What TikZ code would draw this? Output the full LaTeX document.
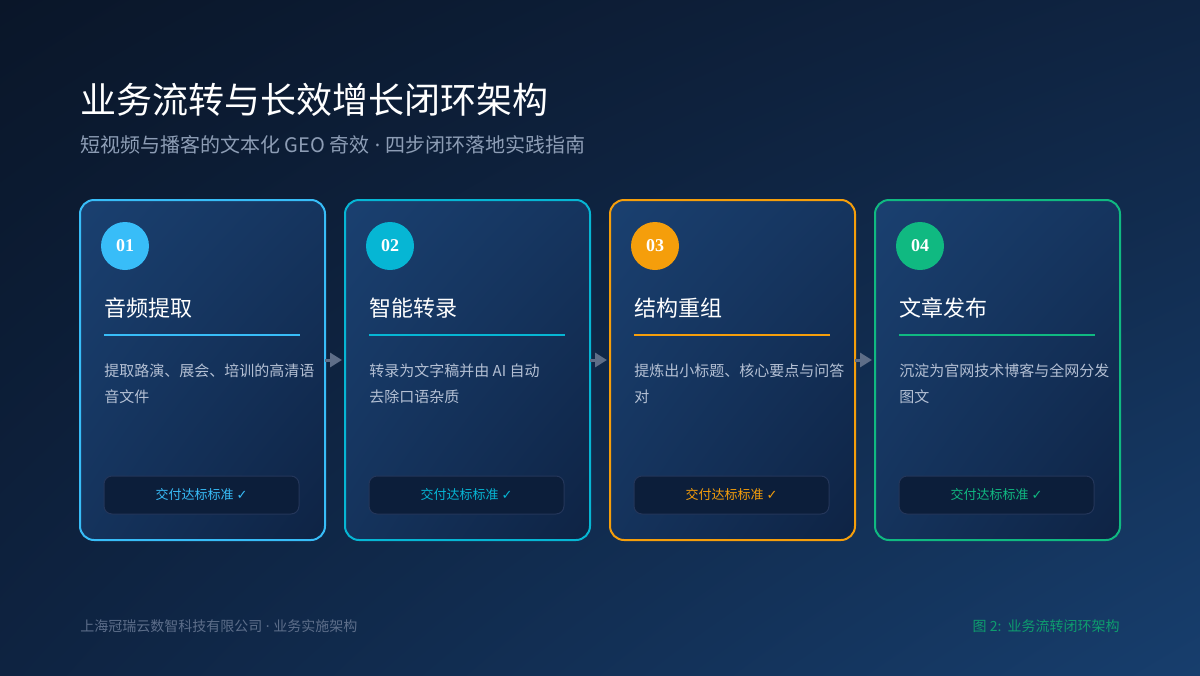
\documentclass[tikz,border=0pt]{standalone}
\usepackage{fontspec}
\setmainfont{Noto Sans CJK SC}
\newfontfamily\numfont{Liberation Serif}
\newfontfamily\symfont{DejaVu Sans}
\newfontfamily\latinfont{Noto Sans}
\usepackage{xcolor}
\usetikzlibrary{positioning, calc, arrows.meta, shadings}

\definecolor{bgTL}{HTML}{0A1629}
\definecolor{bgTR}{HTML}{0F2442}
\definecolor{bgBL}{HTML}{0E2341}
\definecolor{bgBR}{HTML}{173E6D}
\definecolor{cardTL}{HTML}{1A4070}
\definecolor{cardBR}{HTML}{0E2344}
\definecolor{cA}{HTML}{38BDF8}
\definecolor{cB}{HTML}{06B6D4}
\definecolor{cC}{HTML}{F59E0B}
\definecolor{cD}{HTML}{10B981}
\definecolor{subgray}{HTML}{8D9DB5}
\definecolor{descgray}{HTML}{B4C0D4}
\definecolor{footgray}{HTML}{5D6E8A}
\definecolor{arrowgray}{HTML}{5E6E88}
\definecolor{btnfill}{HTML}{0C1E3A}
\definecolor{btnline}{HTML}{24365A}

\newcommand{\chk}{{\symfont ✓}}
\newcommand{\sep}{{\latinfont\ ·\ }}

\begin{document}
\begin{tikzpicture}[x=0.75pt, y=-0.75pt]
    \tikzstyle{card} = [rectangle, rounded corners=10.5pt, line width=1.5pt, outer sep=0pt,
        minimum width=183.75pt, minimum height=255pt,
        upper left=cardTL, upper right=cardTL!60!cardBR, lower left=cardTL!55!cardBR, lower right=cardBR]
    \tikzstyle{badge} = [circle, minimum size=36pt, inner sep=0pt, text=white, font=\numfont\bfseries\fontsize{13.5}{16}\selectfont]
    \tikzstyle{steptitle} = [anchor=base west, inner sep=0pt, text=white, font=\fontsize{16.5}{20}\selectfont]
    \tikzstyle{desc} = [anchor=base west, inner sep=0pt, align=left, text=descgray, font=\fontsize{11.25}{19.5}\selectfont]
    \tikzstyle{okbtn} = [rectangle, rounded corners=6pt, draw=btnline, fill=btnfill, line width=0.75pt,
        minimum width=146.25pt, minimum height=28.5pt, font=\fontsize{9.75}{12}\selectfont]
    \tikzstyle{rule} = [line width=1.5pt]
    \tikzstyle{flowarrow} = [draw=arrowgray, line width=2.25pt, -{Triangle[length=9pt,width=10.5pt]}]

    % background
    \shade[upper left=bgTL, upper right=bgTR, lower left=bgBL, lower right=bgBR] (0,0) rectangle (1200,675);
    \useasboundingbox (0,0) rectangle (1200,675);

    % heading
    \node[anchor=base west, inner sep=0pt, text=white, font=\fontsize{27}{32}\selectfont] (title) at (80,113) {业务流转与长效增长闭环架构};
    \node[anchor=base west, inner sep=0pt, text=subgray, font=\fontsize{15}{18}\selectfont] (subtitle) at (80,152) {短视频与播客的文本化 GEO 奇效\sep 四步闭环落地实践指南};

    % cards
    \node[card, draw=cA] (card1) at (202.5,370) {};
    \node[card, draw=cB, right=15pt of card1] (card2) {};
    \node[card, draw=cC, right=15pt of card2] (card3) {};
    \node[card, draw=cD, right=15pt of card3] (card4) {};

    % step 1
    \node[badge, fill=cA] (num1) at ($(card1.north west)+(45,46)$) {01};
    \node[steptitle] (head1) at ($(card1.north west)+(24,116)$) {音频提取};
    \draw[rule, cA] ($(card1.north west)+(24,135)$) -- ++(196,0);
    \node[desc] (text1) at ($(card1.north west)+(24,202)$) {提取路演、展会、培训的高清语\\音文件};
    \node[okbtn, text=cA] (btn1) at ($(card1.south west)+(121.5,-45)$) {交付达标标准 \chk};

    % step 2
    \node[badge, fill=cB] (num2) at ($(card2.north west)+(45,46)$) {02};
    \node[steptitle] (head2) at ($(card2.north west)+(24,116)$) {智能转录};
    \draw[rule, cB] ($(card2.north west)+(24,135)$) -- ++(196,0);
    \node[desc] (text2) at ($(card2.north west)+(24,202)$) {转录为文字稿并由 AI 自动\\去除口语杂质};
    \node[okbtn, text=cB] (btn2) at ($(card2.south west)+(121.5,-45)$) {交付达标标准 \chk};

    % step 3
    \node[badge, fill=cC] (num3) at ($(card3.north west)+(45,46)$) {03};
    \node[steptitle] (head3) at ($(card3.north west)+(24,116)$) {结构重组};
    \draw[rule, cC] ($(card3.north west)+(24,135)$) -- ++(196,0);
    \node[desc] (text3) at ($(card3.north west)+(24,202)$) {提炼出小标题、核心要点与问答\\对};
    \node[okbtn, text=cC] (btn3) at ($(card3.south west)+(121.5,-45)$) {交付达标标准 \chk};

    % step 4
    \node[badge, fill=cD] (num4) at ($(card4.north west)+(45,46)$) {04};
    \node[steptitle] (head4) at ($(card4.north west)+(24,116)$) {文章发布};
    \draw[rule, cD] ($(card4.north west)+(24,135)$) -- ++(196,0);
    \node[desc] (text4) at ($(card4.north west)+(24,202)$) {沉淀为官网技术博客与全网分发\\图文};
    \node[okbtn, text=cD] (btn4) at ($(card4.south west)+(121.5,-45)$) {交付达标标准 \chk};

    % flow
    \draw[flowarrow] ($(card1.east)+(0,-10)$) -- ($(card2.west)+(-3,-10)$);
    \draw[flowarrow] ($(card2.east)+(0,-10)$) -- ($(card3.west)+(-3,-10)$);
    \draw[flowarrow] ($(card3.east)+(0,-10)$) -- ($(card4.west)+(-3,-10)$);

    % footer
    \node[anchor=base west, inner sep=0pt, text=footgray, font=\fontsize{10.5}{12}\selectfont] (footleft) at (80,631) {上海冠瑞云数智科技有限公司\sep 业务实施架构};
    \node[anchor=base east, inner sep=0pt, text=cD!85!black, font=\fontsize{10.5}{12}\selectfont] (footright) at (1120,631) {图 2:\ \ 业务流转闭环架构};
\end{tikzpicture}
\end{document}
